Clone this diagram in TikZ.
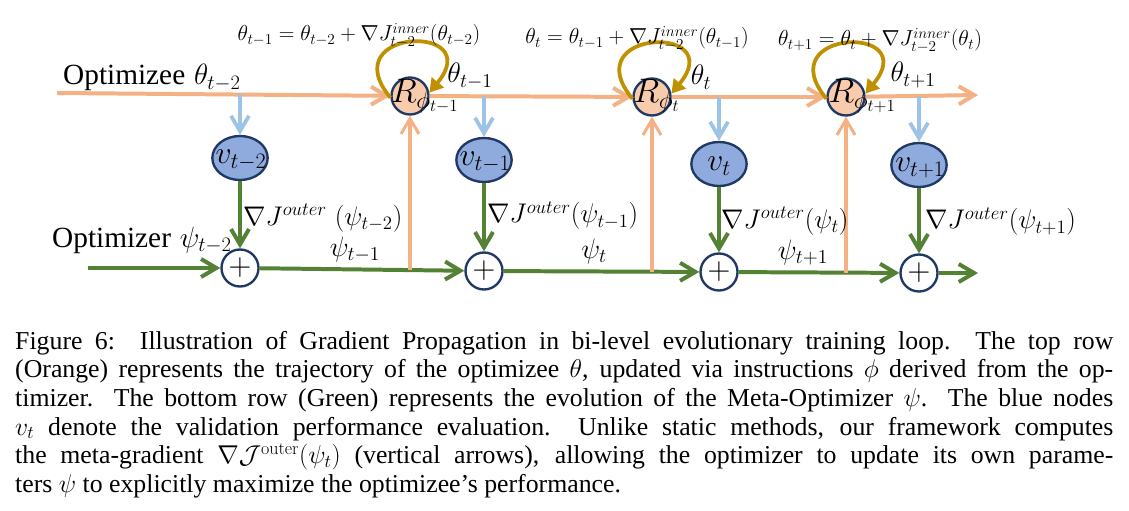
\RequirePackage{fix-cm}
\documentclass[tikz,border=0pt]{standalone}
\usepackage{fontspec}
\newfontfamily\capfont{Liberation Serif}
\newfontfamily\labfont{Liberation Serif}
\usetikzlibrary{arrows.meta,calc,shapes.geometric}
\definecolor{orng}{HTML}{F4B183}
\definecolor{peach}{HTML}{F8CBAD}
\definecolor{navy}{HTML}{203864}
\definecolor{bluefill}{HTML}{8FAADC}
\definecolor{lblue}{HTML}{9DC3E6}
\definecolor{grn}{HTML}{548235}
\definecolor{gold}{HTML}{BF9000}
\begin{document}
\begin{tikzpicture}[x=0.03cm,y=-0.03cm,
  barb/.style={-{Straight Barb[length=4.6mm,width=5.4mm]}},
  olin/.style={draw=orng, line width=3.4pt, barb},
  overt/.style={draw=orng, line width=2.6pt, -{Straight Barb[length=4.6mm,width=5.4mm]}},
  blin/.style={draw=lblue, line width=3.2pt, barb},
  glin/.style={draw=grn, line width=3.4pt, barb},
  loopst/.style={draw=gold, line width=3.2pt, -{Triangle[length=4mm,width=4.6mm]}},
  rnode/.style={circle, draw=navy, fill=peach, line width=2pt, minimum size=1.11cm, inner sep=0pt},
  vnode/.style={ellipse, draw=navy, fill=bluefill, line width=2pt, minimum width=1.66cm, minimum height=1.32cm, inner sep=0pt},
  pnode/.style={circle, draw=navy, fill=white, line width=2pt, minimum size=1.11cm, inner sep=0pt, font=\fontsize{27}{27}\selectfont},
  eqlab/.style={inner sep=0pt, font=\fontsize{18.5}{21}\selectfont},
  biglab/.style={inner sep=0pt, font=\fontsize{24}{28}\selectfont},
  gradlab/.style={inner sep=0pt, anchor=base west, font=\fontsize{23}{27}\selectfont},
  namelab/.style={inner sep=0pt, font=\fontsize{25}{29}\selectfont},
  rlab/.style={inner sep=0pt, anchor=base west, font=\fontsize{29}{32}\selectfont},
  vlab/.style={inner sep=0pt, anchor=base, font=\fontsize{27}{30}\selectfont}
]
\useasboundingbox (0,0) rectangle (1129,511);
\fill[white] (0,0) rectangle (1129,511);

% top row
\coordinate (os) at (57,93);
\coordinate (oe) at (978,95);
\node[rnode] (R1) at (410,96) {};
\node[rnode] (R2) at (652,97) {};
\node[rnode] (R3) at (846,97) {};
\draw[olin] (os) -- (R1);
\draw[olin] (R1) -- (R2);
\draw[olin] (R2) -- (R3);
\draw[olin] (R3) -- (oe);

% blue nodes
\node[vnode] (v1) at (240,158) {};
\node[vnode] (v2) at (484,160) {};
\node[vnode] (v3) at (719,164) {};
\node[vnode] (v4) at (919,165) {};
\coordinate (b1) at (240,94.5);
\coordinate (b2) at (484,96);
\coordinate (b3) at (719,97);
\coordinate (b4) at (919,96);
\draw[blin] (b1) -- (v1);
\draw[blin] (b2) -- (v2);
\draw[blin] (b3) -- (v3);
\draw[blin] (b4) -- (v4);

% plus nodes
\node[pnode] (P1) at (240,268) {$+$};
\node[pnode] (P2) at (484,271) {$+$};
\node[pnode] (P3) at (719,272) {$+$};
\node[pnode] (P4) at (919,273) {$+$};
\coordinate (gs) at (88,268);
\coordinate (ge) at (978,273);
\draw[glin] (gs) -- (P1);
\draw[glin] (P1) -- (P2);
\draw[glin] (P2) -- (P3);
\draw[glin] (P3) -- (P4);
\draw[glin] (P4) -- (ge);
\draw[glin] (v1) -- (P1);
\draw[glin] (v2) -- (P2);
\draw[glin] (v3) -- (P3);
\draw[glin] (v4) -- (P4);

% orange verticals
\coordinate (u1) at (410,269.5);
\coordinate (u2) at (652,271.5);
\coordinate (u3) at (846,272.5);
\draw[overt] (u1) -- (R1);
\draw[overt] (u2) -- (R2);
\draw[overt] (u3) -- (R3);

% self loops
\draw[loopst] (R1.185) .. controls +(-58,-70) and +(58,-70) .. (R1.10);
\draw[loopst] (R2.185) .. controls +(-58,-70) and +(58,-70) .. (R2.10);
\draw[loopst] (R3.185) .. controls +(-58,-70) and +(58,-70) .. (R3.10);

% node labels
\node[rlab] (rl1) at ($(R1.west)+(0.5,7)$) {$R_{\phi_{t-1}}$};
\node[rlab] (rl2) at ($(R2.west)+(1,6)$) {$R_{\phi_{t}}$};
\node[rlab] (rl3) at ($(R3.west)+(2,6)$) {$R_{\phi_{t+1}}$};
\node[vlab] (vl1) at ($(v1)+(1,6)$) {$v_{t-2}$};
\node[vlab] (vl2) at ($(v2)+(1,6)$) {$v_{t-1}$};
\node[vlab] (vl3) at ($(v3)+(0,7)$) {$v_{t}$};
\node[vlab] (vl4) at ($(v4)+(1,7)$) {$v_{t+1}$};

% equations
\node[eqlab, anchor=base] (e1) at (359,41) {$\theta_{t-1} = \theta_{t-2} + \nabla J^{inner}_{t-2}(\theta_{t-2})$};
\node[eqlab, anchor=base] (e2) at (637,44) {$\theta_{t} = \theta_{t-1} + \nabla J^{inner}_{t-2}(\theta_{t-1})$};
\node[eqlab, anchor=base] (e3) at (880,46) {$\theta_{t+1} = \theta_{t} + \nabla J^{inner}_{t-2}(\theta_{t})$};

% names
\node[namelab, anchor=base west] (nee) at (63,85) {{\labfont Optimizee} $\theta_{t-2}$};
\node[namelab, anchor=base west] (ner) at (52,247) {{\labfont Optimizer} $\psi_{t-2}$};

% theta labels
\node[biglab, anchor=base] (th1) at (470,83) {$\theta_{t-1}$};
\node[biglab, anchor=base] (th2) at (701,85) {$\theta_{t}$};
\node[biglab, anchor=base] (th3) at (913,82) {$\theta_{t+1}$};

% gradient labels
\node[gradlab] (g1) at (243,225) {$\nabla J^{outer}\ (\psi_{t-2})$};
\node[gradlab] (g2) at (487,223) {$\nabla J^{outer}(\psi_{t-1})$};
\node[gradlab] (g3) at (721,228) {$\nabla J^{outer}(\psi_{t})$};
\node[gradlab] (g4) at (925,229) {$\nabla J^{outer}(\psi_{t+1})$};

% psi labels
\node[biglab, anchor=base] (p1) at (355,256) {$\psi_{t-1}$};
\node[biglab, anchor=base] (p2) at (594,258) {$\psi_{t}$};
\node[biglab, anchor=base] (p3) at (803,259) {$\psi_{t+1}$};

% caption
\node[anchor=base west, inner sep=0pt, text width=32.94cm, align=justify,
  font=\capfont\fontsize{22}{24.5}\selectfont] (cap) at (15,349)
{Figure 6:\ \ Illustration of Gradient Propagation in bi-level evolutionary training loop.\ \ The top row\linebreak
(Orange) represents the trajectory of the optimizee $\theta$, updated via instructions $\phi$ derived from the op-\linebreak
timizer. The bottom row (Green) represents the evolution of the Meta-Optimizer $\psi$. The blue nodes\linebreak
$v_t$ denote the validation performance evaluation.\ \ Unlike static methods, our framework computes\linebreak
the meta-gradient $\nabla\mathcal{J}^{\mathrm{outer}}(\psi_t)$ (vertical arrows), allowing the optimizer to update its own parame-\linebreak
ters $\psi$ to explicitly maximize the optimizee’s performance.};
\end{tikzpicture}
\end{document}
